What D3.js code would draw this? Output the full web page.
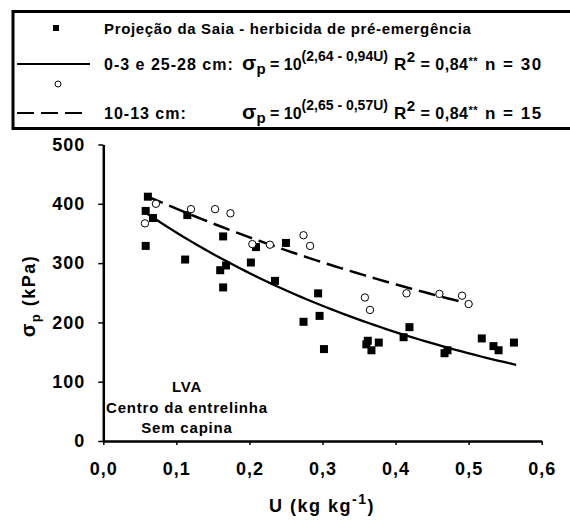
<!DOCTYPE html>
<html>
<head>
<meta charset="utf-8">
<script src="https://cdn.jsdelivr.net/npm/d3@7/dist/d3.min.js"></script>
<style>
  html, body { margin: 0; padding: 0; background: #fff; }
  svg { display: block; font-family: "Liberation Sans", Arial, sans-serif; font-weight: bold; }
</style>
</head>
<body>
<svg id="chart" width="570" height="522"></svg>
<script>
// Projeção da Saia, 0-3 e 25-28 cm (filled squares)
const uSaia = [0.061, 0.058, 0.068, 0.058, 0.112, 0.115, 0.164, 0.160, 0.168, 0.164,
               0.202, 0.209, 0.250, 0.235, 0.294, 0.296, 0.274, 0.302, 0.362, 0.360,
               0.377, 0.367, 0.419, 0.411, 0.471, 0.467, 0.518, 0.534, 0.541, 0.562];
const sigmaSaia = [412, 388, 376, 329, 306, 381, 345, 288, 296, 259,
                   301, 327, 334, 270, 249, 211, 201, 155, 169, 163,
                   166, 153, 192, 175, 153, 148, 173, 160, 153, 166];

// 10-13 cm (open circles)
const uMeio = [0.057, 0.072, 0.120, 0.153, 0.174, 0.204, 0.228, 0.274, 0.283,
               0.358, 0.365, 0.415, 0.460, 0.491, 0.500];
const sigmaMeio = [367, 400, 391, 391, 384, 332, 331, 347, 329,
                   242, 221, 249, 248, 245, 231];

// Fitted models: sigma_p = 10^(a - b*U)
const fitSaia = { a: 2.64, b: 0.94, r2: 0.84, uMin: 0.06, uMax: 0.565 };
const fitMeio = { a: 2.65, b: 0.57, r2: 0.84, uMin: 0.06, uMax: 0.50 };

const xTicks = [0, 0.1, 0.2, 0.3, 0.4, 0.5, 0.6];
const yTicks = [0, 100, 200, 300, 400, 500];
const noteLines = ["LVA", "Centro da entrelinha", "Sem capina"];

const svg = d3.select("#chart");

const x = d3.scaleLinear().domain([0, 0.6]).range([103.3, 541.7]);
const y = d3.scaleLinear().domain([0, 500]).range([441, 144.5]);

const comma = (v, d) => v.toFixed(d).replace(".", ",");

// ---- legend box (runs off the right edge) ----
svg.append("rect")
  .attr("x", 13).attr("y", 11.5)
  .attr("width", 600).attr("height", 117)
  .attr("fill", "none").attr("stroke", "#000").attr("stroke-width", 3);

const leg = svg.append("g");
leg.append("rect").attr("x", 53).attr("y", 25).attr("width", 6).attr("height", 6).attr("fill", "#000");
leg.append("text").attr("x", 104).attr("y", 34)
  .style("font-size", "15px").style("letter-spacing", "0.65px")
  .text("Projeção da Saia - herbicida de pré-emergência");

leg.append("line").attr("x1", 17).attr("x2", 90).attr("y1", 64).attr("y2", 64)
  .attr("stroke", "#000").attr("stroke-width", 2);
leg.append("circle").attr("cx", 58).attr("cy", 84).attr("r", 3)
  .attr("fill", "#fff").attr("stroke", "#000").attr("stroke-width", 1);
leg.append("line").attr("x1", 17).attr("x2", 84).attr("y1", 113).attr("y2", 113)
  .attr("stroke", "#000").attr("stroke-width", 2).attr("stroke-dasharray", "17,7");

function legendRow(label, fit, n, baseline) {
  leg.append("text").attr("x", 104).attr("y", baseline)
    .style("font-size", "16px").style("letter-spacing", "1px")
    .text(label);
  const t = leg.append("text").attr("x", 242).attr("y", baseline);
  t.append("tspan").style("font-size", "21px").text("σ");
  t.append("tspan").style("font-size", "15px").attr("dy", 4).text("p");
  t.append("tspan").style("font-size", "16px").attr("dy", -4).text(" = 10");
  t.append("tspan").style("font-size", "14px").attr("dy", -9)
    .text("(" + comma(fit.a, 2) + " - " + comma(fit.b, 2) + "U)");
  const r = leg.append("text").attr("x", 394).attr("y", baseline)
    .style("letter-spacing", "0.5px");
  r.append("tspan").style("font-size", "17px").text("R");
  r.append("tspan").style("font-size", "15px").attr("dy", -8).text("2");
  r.append("tspan").style("font-size", "16px").attr("dy", 8).text(" = " + comma(fit.r2, 2));
  r.append("tspan").style("font-size", "11px").attr("dy", -5).text("**");
  leg.append("text").attr("x", 485).attr("y", baseline)
    .style("font-size", "17px").style("letter-spacing", "1.5px")
    .text("n = " + n);
}
legendRow("0-3 e 25-28 cm:", fitSaia, uSaia.length, 70);
legendRow("10-13 cm:", fitMeio, uMeio.length, 119);

// ---- axes ----
const yAxis = d3.axisLeft(y).tickValues(yTicks).tickSize(5).tickSizeOuter(0).tickPadding(13)
  .tickFormat(d3.format("d"));
const xAxis = d3.axisBottom(x).tickValues(xTicks).tickSize(4).tickSizeOuter(0).tickPadding(17)
  .tickFormat(d => comma(d, 1));

const gy = svg.append("g").attr("transform", `translate(${x(0)},0)`).call(yAxis);
const gx = svg.append("g").attr("transform", `translate(0,${y(0)})`).call(xAxis);
[gx, gy].forEach(g => {
  g.select(".domain").attr("stroke-width", 2.5);
  g.selectAll(".tick line").attr("stroke-width", 1.5);
  g.selectAll(".tick text")
    .attr("font-family", null).attr("font-size", null)
    .style("font-size", "18px").style("letter-spacing", "1px").style("font-weight", "bold");
});

// axis titles
const yt = svg.append("text")
  .attr("transform", `translate(35,296) rotate(-90)`)
  .attr("text-anchor", "middle")
  .style("font-size", "18px").style("letter-spacing", "1.5px");
yt.append("tspan").style("font-size", "20px").text("σ");
yt.append("tspan").style("font-size", "13px").attr("dy", 5).text("p");
yt.append("tspan").attr("dy", -5).text(" (kPa)");

const xt = svg.append("text").attr("x", 322).attr("y", 512)
  .attr("text-anchor", "middle")
  .style("font-size", "18px").style("letter-spacing", "1.5px");
xt.append("tspan").text("U (kg kg");
xt.append("tspan").style("font-size", "14px").attr("dy", -8).text("-1");
xt.append("tspan").attr("dy", 8).text(")");

// ---- fitted curves ----
function curvePoints(fit) {
  const steps = 60;
  return d3.range(steps + 1).map(i => {
    const u = fit.uMin + (fit.uMax - fit.uMin) * i / steps;
    return [u, Math.pow(10, fit.a - fit.b * u)];
  });
}
const line = d3.line().x(d => x(d[0])).y(d => y(d[1])).curve(d3.curveLinear);

svg.append("path").datum(curvePoints(fitMeio))
  .attr("d", line).attr("fill", "none").attr("stroke", "#000")
  .attr("stroke-width", 2.5).attr("stroke-dasharray", "17,7");
svg.append("path").datum(curvePoints(fitSaia))
  .attr("d", line).attr("fill", "none").attr("stroke", "#000")
  .attr("stroke-width", 2.3);

// ---- points ----
const sq = 8;
svg.append("g").selectAll("rect").data(d3.range(uSaia.length)).join("rect")
  .attr("x", i => x(uSaia[i]) - sq / 2)
  .attr("y", i => y(sigmaSaia[i]) - sq / 2)
  .attr("width", sq).attr("height", sq).attr("fill", "#000");

svg.append("g").selectAll("circle").data(d3.range(uMeio.length)).join("circle")
  .attr("cx", i => x(uMeio[i]))
  .attr("cy", i => y(sigmaMeio[i]))
  .attr("r", 3.7).attr("fill", "#fff").attr("stroke", "#000").attr("stroke-width", 1);

// ---- annotation ----
const note = svg.append("text").attr("text-anchor", "middle")
  .style("font-size", "15px").style("letter-spacing", "0.8px");
noteLines.forEach((s, i) => {
  note.append("tspan").attr("x", 187).attr("y", 392 + i * 20.5).text(s);
});
</script>
</body>
</html>
